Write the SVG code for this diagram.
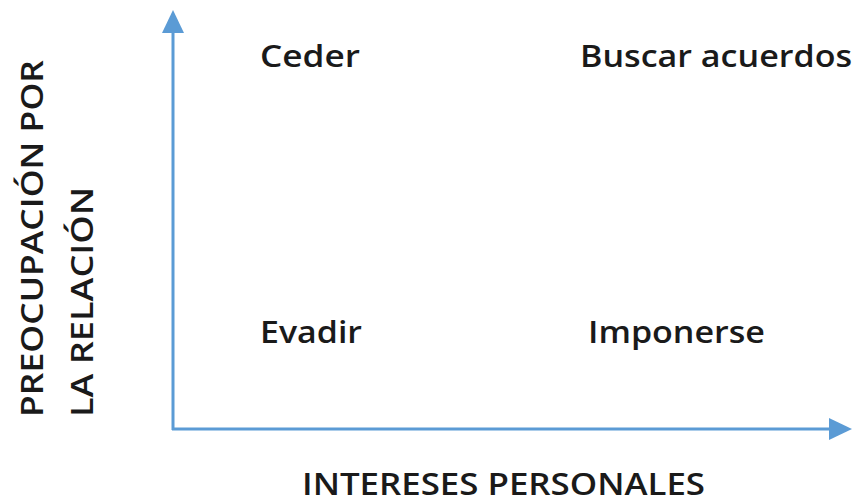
<svg xmlns="http://www.w3.org/2000/svg" width="856" height="503" viewBox="0 0 856 503">
<style>
.lbl{font-family:"Open Sans","Liberation Sans",sans-serif;font-size:31px;font-weight:600;fill:#1a1a1a}
.axis{stroke:#5B9BD5;stroke-width:3;fill:none}
</style>
<defs>
<marker id="ah" markerUnits="userSpaceOnUse" markerWidth="24" markerHeight="24" refX="2" refY="12" orient="auto">
<path d="M0,1 L23,12 L0,23 Z" fill="#5B9BD5"/>
</marker>
</defs>
<rect width="856" height="503" fill="#ffffff"/>
<g id="connectors">
<line class="axis" x1="173" y1="430" x2="173" y2="31" marker-end="url(#ah)"/>
<line class="axis" x1="172" y1="429" x2="831" y2="429" marker-end="url(#ah)"/>
</g>
<g id="ceder"><text class="lbl" x="260" y="67" textLength="100" lengthAdjust="spacingAndGlyphs">Ceder</text></g>
<g id="buscar"><text class="lbl" x="580" y="67" textLength="272" lengthAdjust="spacingAndGlyphs">Buscar acuerdos</text></g>
<g id="evadir"><text class="lbl" x="260" y="343" textLength="102" lengthAdjust="spacingAndGlyphs">Evadir</text></g>
<g id="imponerse"><text class="lbl" x="588" y="343" textLength="177" lengthAdjust="spacingAndGlyphs">Imponerse</text></g>
<g id="x-label"><text class="lbl" x="302" y="495" textLength="403" lengthAdjust="spacingAndGlyphs">INTERESES PERSONALES</text></g>
<g id="y-label">
<text class="lbl" transform="translate(43,417) rotate(-90)" x="0" y="0" textLength="357" lengthAdjust="spacingAndGlyphs">PREOCUPACIÓN POR</text>
<text class="lbl" transform="translate(93,417) rotate(-90)" x="0" y="0" textLength="230" lengthAdjust="spacingAndGlyphs">LA RELACIÓN</text>
</g>
</svg>
